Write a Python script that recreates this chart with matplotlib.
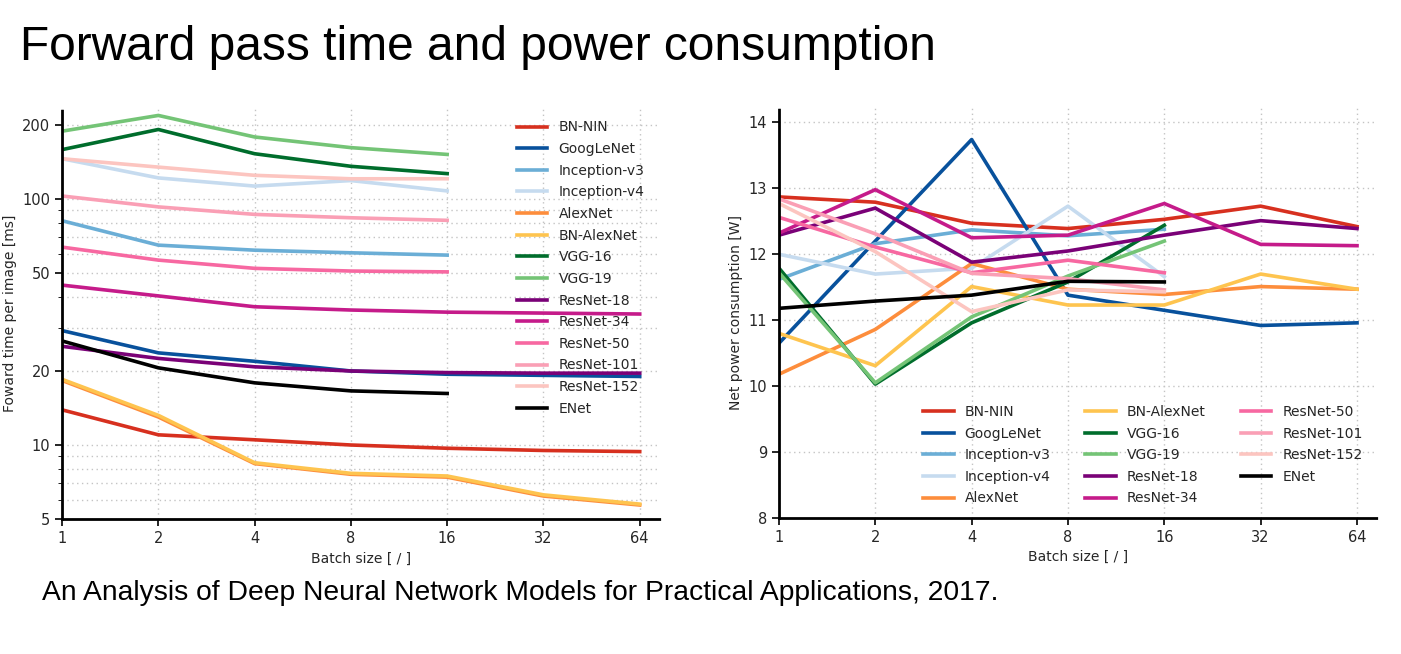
import matplotlib.pyplot as plt
from matplotlib.ticker import FixedLocator, NullFormatter

batch = [1, 2, 4, 8, 16, 32, 64]

models = ['BN-NIN', 'GoogLeNet', 'Inception-v3', 'Inception-v4', 'AlexNet',
          'BN-AlexNet', 'VGG-16', 'VGG-19', 'ResNet-18', 'ResNet-34',
          'ResNet-50', 'ResNet-101', 'ResNet-152', 'ENet']

colors = ['#d7301f', '#08519c', '#6baed6', '#c6dbef', '#fd8d3c',
          '#fec44f', '#006d2c', '#74c476', '#7a0177', '#c51b8a',
          '#f768a1', '#fa9fb5', '#fcc5c0', '#000000']

# forward time per image [ms]
time_bn_nin = [13.9, 11.0, 10.5, 10.0, 9.7, 9.5, 9.4]
time_googlenet = [29.2, 23.7, 21.9, 20.0, 19.4, 19.2, 19.0]
time_inception_v3 = [81.7, 65.0, 62.0, 60.5, 59.2]
time_inception_v4 = [146, 122, 113, 119, 108]
time_alexnet = [18.3, 13.0, 8.4, 7.6, 7.4, 6.2, 5.7]
time_bn_alexnet = [18.5, 13.2, 8.47, 7.67, 7.48, 6.27, 5.75]
time_vgg16 = [159, 192, 153, 136, 127]
time_vgg19 = [189, 219, 179, 162, 152]
time_resnet18 = [25.2, 22.5, 20.8, 20.0, 19.7, 19.6, 19.6]
time_resnet34 = [44.7, 40.4, 36.5, 35.4, 34.7, 34.4, 34.1]
time_resnet50 = [63.8, 56.5, 52.3, 51.0, 50.6]
time_resnet101 = [103, 93, 86.7, 84, 82]
time_resnet152 = [146, 135, 125, 121, 121]
time_enet = [26.5, 20.6, 17.9, 16.6, 16.2]

# net power consumption [W]
power_bn_nin = [12.87, 12.79, 12.47, 12.39, 12.53, 12.73, 12.42]
power_googlenet = [10.65, 12.2, 13.74, 11.38, 11.15, 10.92, 10.96]
power_inception_v3 = [11.62, 12.16, 12.37, 12.28, 12.38]
power_inception_v4 = [12.0, 11.70, 11.79, 12.73, 11.66]
power_alexnet = [10.18, 10.86, 11.86, 11.47, 11.39, 11.51, 11.47]
power_bn_alexnet = [10.80, 10.31, 11.51, 11.23, 11.23, 11.70, 11.47]
power_vgg16 = [11.79, 10.03, 10.96, 11.58, 12.44]
power_vgg19 = [11.72, 10.05, 11.05, 11.67, 12.20]
power_resnet18 = [12.29, 12.70, 11.88, 12.05, 12.29, 12.51, 12.39]
power_resnet34 = [12.32, 12.98, 12.25, 12.29, 12.77, 12.15, 12.13]
power_resnet50 = [12.56, 12.11, 11.72, 11.91, 11.72]
power_resnet101 = [12.84, 12.31, 11.71, 11.63, 11.46]
power_resnet152 = [12.77, 12.04, 11.13, 11.46, 11.43]
power_enet = [11.18, 11.29, 11.38, 11.59, 11.58]

times = [time_bn_nin, time_googlenet, time_inception_v3, time_inception_v4,
         time_alexnet, time_bn_alexnet, time_vgg16, time_vgg19, time_resnet18,
         time_resnet34, time_resnet50, time_resnet101, time_resnet152, time_enet]
powers = [power_bn_nin, power_googlenet, power_inception_v3, power_inception_v4,
          power_alexnet, power_bn_alexnet, power_vgg16, power_vgg19, power_resnet18,
          power_resnet34, power_resnet50, power_resnet101, power_resnet152, power_enet]

plt.rcParams['font.family'] = 'DejaVu Sans'
txt = '#262626'

fig = plt.figure(figsize=(14.01, 6.54), dpi=100)
ax1 = fig.add_axes([0.0443, 0.2064, 0.4267, 0.6286])
ax2 = fig.add_axes([0.556, 0.208, 0.427, 0.628])


def style(ax):
    ax.set_xscale('log', base=2)
    ax.set_xlim(1, 74)
    ax.set_xticks(batch)
    ax.set_xticklabels([str(b) for b in batch])
    ax.xaxis.set_minor_locator(FixedLocator([]))
    for s in ['top', 'right']:
        ax.spines[s].set_visible(False)
    for s in ['left', 'bottom']:
        ax.spines[s].set_linewidth(2)
        ax.spines[s].set_linestyle((0, (3, 1)))
    ax.grid(True, which='both', linestyle=(0, (1, 2.5)), color='#c4c4c4', linewidth=1)
    ax.tick_params(labelsize=10.5, colors=txt, labelcolor=txt, width=1.2)
    ax.tick_params(axis='both', which='major', length=5, color='black')
    ax.set_xlabel('Batch size [ / ]', fontsize=10, color=txt)


for name, c, vals in zip(models, colors, times):
    ax1.plot(batch[:len(vals)], vals, color=c, lw=2.6, label=name)
style(ax1)
ax1.set_yscale('log')
ax1.set_ylim(5, 235)
ax1.yaxis.set_major_locator(FixedLocator([5, 10, 20, 50, 100, 200]))
ax1.yaxis.set_minor_locator(FixedLocator([6, 7, 8, 9, 30, 40, 60, 70, 80, 90]))
ax1.yaxis.set_minor_formatter(NullFormatter())
ax1.set_yticklabels(['5', '10', '20', '50', '100', '200'])
ax1.tick_params(axis='y', which='minor', length=3, color='black')
ax1.set_ylabel('Foward time per image [ms]', fontsize=10, color=txt)
ax1.legend(loc='upper left', bbox_to_anchor=(0.74, 1.0), frameon=False,
           fontsize=10, handlelength=2.2, labelspacing=0.55, labelcolor=txt)

for name, c, vals in zip(models, colors, powers):
    ax2.plot(batch[:len(vals)], vals, color=c, lw=2.6, label=name)
style(ax2)
ax2.set_ylim(8, 14.23)
ax2.set_yticks([8, 9, 10, 11, 12, 13, 14])
ax2.set_ylabel('Net power consumption [W]', fontsize=10, color=txt)
ax2.legend(loc='lower left', bbox_to_anchor=(0.22, 0.0), frameon=False, ncol=3,
           fontsize=10, handlelength=2.2, labelspacing=0.55, columnspacing=2.5,
           labelcolor=txt)

fig.text(0.0143, 1 - 60 / 654, 'Forward pass time and power consumption',
         fontsize=34.5, family='Liberation Sans', va='baseline', ha='left')
fig.text(0.03, 1 - 600 / 654,
         'An Analysis of Deep Neural Network Models for Practical Applications, 2017.',
         fontsize=20.3, family='Liberation Sans', va='baseline', ha='left')

fig.savefig('out.png', dpi=100)
